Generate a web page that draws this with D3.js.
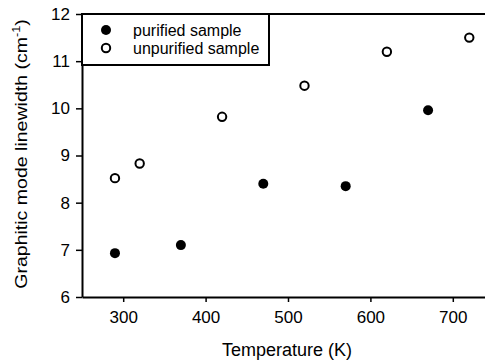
<!DOCTYPE html>
<html>
<head>
<meta charset="utf-8">
<script src="https://cdn.jsdelivr.net/npm/d3@7"></script>
<style>
  body { margin: 0; background: #fff; }
  svg { display: block; font-family: Arial, "Liberation Sans", Helvetica, sans-serif; }
</style>
</head>
<body>
<svg id="chart"></svg>
<script>
// data
const purifiedTemp = [290, 370, 470, 570, 670]
const purifiedWidth = [6.93, 7.10, 8.40, 8.35, 9.96]
const unpurifiedTemp = [290, 320, 420, 520, 620, 720]
const unpurifiedWidth = [8.52, 8.83, 9.82, 10.48, 11.20, 11.50]
const xTicks = [300, 400, 500, 600, 700]
const yTicks = [6, 7, 8, 9, 10, 11, 12]

const fullWidth = 485
const fullHeight = 364
const margin = { top: 14, left: 82, bottom: 67 }
const plotRight = 494
const plotBottom = fullHeight - margin.bottom

const svg = d3.select('#chart')
    .attr('width', fullWidth)
    .attr('height', fullHeight)

const x = d3.scaleLinear().domain([250, 750]).range([margin.left, plotRight])
const y = d3.scaleLinear().domain([6, 12]).range([plotBottom, margin.top])

// top frame line
svg.append('line')
    .attr('x1', margin.left).attr('x2', plotRight)
    .attr('y1', margin.top).attr('y2', margin.top)
    .attr('stroke', '#000').attr('stroke-width', 2)

const xAxis = svg.append('g')
    .attr('transform', `translate(0, ${plotBottom})`)
    .call(d3.axisBottom(x).tickValues(xTicks).tickFormat(d3.format('d'))
        .tickSize(5).tickSizeOuter(0).tickPadding(9))

const yAxis = svg.append('g')
    .attr('transform', `translate(${margin.left}, 0)`)
    .call(d3.axisLeft(y).tickValues(yTicks).tickFormat(d3.format('d'))
        .tickSize(6).tickSizeOuter(0).tickPadding(6))

for (const g of [xAxis, yAxis]) {
    g.select('.domain').attr('stroke-width', 2)
    g.selectAll('.tick line').attr('stroke-width', 1.5)
    g.selectAll('text').attr('font-size', 17).attr('fill', '#000')
        .style('font-family', 'Arial, "Liberation Sans", sans-serif')
}

// axis titles
svg.append('text')
    .attr('x', 287)
    .attr('y', 356)
    .attr('text-anchor', 'middle')
    .attr('font-size', 18)
    .text('Temperature (K)')

// the original title font is a bit wider than Arial, so stretch it along its length
const yTitle = svg.append('text')
    .attr('transform', 'translate(27, 154) rotate(-90) scale(1.15, 1)')
    .attr('text-anchor', 'middle')
    .attr('font-size', 17)
yTitle.append('tspan').text('Graphitic mode linewidth (cm')
yTitle.append('tspan').attr('font-size', 11).attr('dy', -7).text('-1')
yTitle.append('tspan').attr('dy', 7).text(')')

// points
svg.append('g')
    .selectAll('circle')
    .data(d3.zip(purifiedTemp, purifiedWidth))
    .enter().append('circle')
        .attr('cx', d => x(d[0]))
        .attr('cy', d => y(d[1]))
        .attr('r', 5)
        .attr('fill', '#000')

svg.append('g')
    .selectAll('circle')
    .data(d3.zip(unpurifiedTemp, unpurifiedWidth))
    .enter().append('circle')
        .attr('cx', d => x(d[0]))
        .attr('cy', d => y(d[1]))
        .attr('r', 4.2)
        .attr('fill', '#fff')
        .attr('stroke', '#000')
        .attr('stroke-width', 2)

// legend
const legend = svg.append('g')
legend.append('rect')
    .attr('x', margin.left).attr('y', margin.top)
    .attr('width', 187).attr('height', 51)
    .attr('fill', '#fff').attr('stroke', '#000').attr('stroke-width', 2)
legend.append('circle').attr('cx', 106).attr('cy', 30).attr('r', 5).attr('fill', '#000')
legend.append('circle').attr('cx', 106).attr('cy', 48).attr('r', 4.2)
    .attr('fill', '#fff').attr('stroke', '#000').attr('stroke-width', 2)
legend.append('text').attr('x', 133).attr('y', 35.5).attr('font-size', 16).text('purified sample')
legend.append('text').attr('x', 133).attr('y', 53.5).attr('font-size', 16).text('unpurified sample')
</script>
</body>
</html>
